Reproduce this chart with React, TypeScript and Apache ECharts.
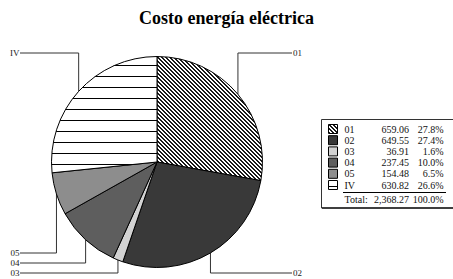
import React, { useEffect, useRef } from 'react';
import * as echarts from 'echarts';

const chartTitle = 'Costo energía eléctrica';
const categories = ['01', '02', '03', '04', '05', 'IV'];
const values = [659.06, 649.55, 36.91, 237.45, 154.48, 630.82];
const totalLabel = 'Total:';

const FONT = '"Liberation Serif", "Times New Roman", serif';
const CX = 157;
const CY = 162;
const R = 105.5;

function makeCanvas(w: number, h: number, draw: (ctx: CanvasRenderingContext2D) => void) {
  const c = document.createElement('canvas');
  c.width = w;
  c.height = h;
  const ctx = c.getContext('2d')!;
  draw(ctx);
  return c;
}

function makeFills() {
  const hatch = makeCanvas(4, 4, (ctx) => {
    ctx.fillStyle = '#ffffff';
    ctx.fillRect(0, 0, 4, 4);
    ctx.fillStyle = '#1a1a1a';
    for (let y = 0; y < 4; y++)
      for (let x = 0; x < 4; x++) {
        const m = (((x - y) % 4) + 4) % 4;
        if (m < 2) ctx.fillRect(x, y, 1, 1);
      }
  });
  const hlines = makeCanvas(4, 11, (ctx) => {
    ctx.fillStyle = '#ffffff';
    ctx.fillRect(0, 0, 4, 11);
    ctx.fillStyle = '#000000';
    ctx.fillRect(0, 10, 4, 1);
  });
  return [
    { image: hatch, repeat: 'repeat', imageWidth: 4, imageHeight: 4 },
    '#393939',
    '#d2d2d2',
    '#5e5e5e',
    '#8d8d8d',
    { image: hlines, repeat: 'repeat', imageWidth: 4, imageHeight: 11 },
  ];
}

export default function App() {
  const ref = useRef<HTMLDivElement>(null);

  useEffect(() => {
    if (!ref.current) return;
    const chart = echarts.init(ref.current, undefined, { renderer: 'svg' });
    const fills = makeFills();
    const total = values.reduce((a, b) => a + b, 0);

    const mids: number[] = [];
    let acc = 0;
    values.forEach((v) => {
      mids.push(((acc + v / 2) / total) * Math.PI * 2);
      acc += v;
    });
    const isRight = mids.map((a) => Math.sin(a) >= 0);
    const isUpper = mids.map((a) => Math.cos(a) > 0);
    const bottomLeft = mids
      .map((a, i) => i)
      .filter((i) => !isRight[i] && !isUpper[i])
      .sort((a, b) => mids[a] - mids[b]);

    const labelY = (i: number) => {
      if (isUpper[i]) return 53;
      if (isRight[i]) return 273;
      const rank = bottomLeft.indexOf(i);
      return 273 - 10 * rank;
    };

    const LF = `10px ${FONT}`;
    const rowYs = [129, 140.2, 151.4, 162.6, 173.8, 185];
    const legendEls: any[] = [];
    legendEls.push({
      type: 'rect',
      shape: { x: 321.5, y: 119.5, width: 132, height: 88.5 },
      style: { fill: '#fff', stroke: '#333', lineWidth: 1 },
    });
    legendEls.push({
      type: 'line',
      shape: { x1: 322, y1: 208, x2: 453, y2: 208 },
      style: { stroke: '#222', lineWidth: 1.5 },
    });
    categories.forEach((name, i) => {
      const y = rowYs[i];
      legendEls.push({
        type: 'rect',
        shape: { x: 328.5, y: y - 4.5, width: 9, height: 9 },
        style: { fill: fills[i], stroke: '#000', lineWidth: 1 },
      });
      legendEls.push({
        type: 'text',
        x: 344.5,
        y,
        style: { text: name, font: LF, fill: '#111', align: 'left', verticalAlign: 'middle' },
      });
      legendEls.push({
        type: 'text',
        x: 409,
        y,
        style: { text: values[i].toFixed(2), font: LF, fill: '#111', align: 'right', verticalAlign: 'middle' },
      });
      legendEls.push({
        type: 'text',
        x: 443.5,
        y,
        style: {
          text: ((values[i] / total) * 100).toFixed(1) + '%',
          font: LF,
          fill: '#111',
          align: 'right',
          verticalAlign: 'middle',
        },
      });
    });
    legendEls.push({
      type: 'line',
      shape: { x1: 343, y1: 192.5, x2: 446, y2: 192.5 },
      style: { stroke: '#000', lineWidth: 1 },
    });
    const totalY = 199.5;
    legendEls.push({
      type: 'text',
      x: 344.5,
      y: totalY,
      style: { text: totalLabel, font: LF, fill: '#111', align: 'left', verticalAlign: 'middle' },
    });
    legendEls.push({
      type: 'text',
      x: 409,
      y: totalY,
      style: {
        text: total.toLocaleString('en-US', { minimumFractionDigits: 2, maximumFractionDigits: 2 }),
        font: LF,
        fill: '#111',
        align: 'right',
        verticalAlign: 'middle',
      },
    });
    legendEls.push({
      type: 'text',
      x: 443.5,
      y: totalY,
      style: { text: '100.0%', font: LF, fill: '#111', align: 'right', verticalAlign: 'middle' },
    });

    chart.setOption({
      animation: false,
      backgroundColor: '#ffffff',
      title: {
        text: chartTitle,
        left: 'center',
        top: 4,
        textStyle: { fontFamily: FONT, fontWeight: 'bold', fontSize: 18, color: '#000' },
      },
      graphic: legendEls,
      series: [
        {
          type: 'pie',
          center: [CX, CY],
          radius: R,
          startAngle: 90,
          clockwise: true,
          silent: true,
          avoidLabelOverlap: false,
          emphasis: { disabled: true },
          itemStyle: { borderColor: '#000', borderWidth: 1 },
          label: {
            show: true,
            position: 'outside',
            formatter: '{b}',
            fontFamily: FONT,
            fontSize: 9,
            color: '#222',
          },
          labelLine: { show: true, length: 10, length2: 10, lineStyle: { color: '#333', width: 1 } },
          labelLayout: (p: any) => {
            const i = p.dataIndex;
            let p0: number[];
            if (p.labelLinePoints && p.labelLinePoints[0]) {
              p0 = p.labelLinePoints[0];
            } else {
              p0 = [CX + R * Math.sin(mids[i]), CY - R * Math.cos(mids[i])];
            }
            const y = labelY(i);
            const right = isRight[i];
            const endX = right ? 292 : 20;
            return {
              x: right ? 293 : 19.5,
              y,
              align: right ? 'left' : 'right',
              verticalAlign: 'middle',
              labelLinePoints: [
                [p0[0], p0[1]],
                [p0[0], y],
                [endX, y],
              ],
            };
          },
          data: categories.map((n, i) => ({ name: n, value: values[i], itemStyle: { color: fills[i] } })),
        },
      ],
    } as any);
    return () => chart.dispose();
  }, []);

  return (
    <div
      ref={ref}
      style={{ position: 'fixed', left: 0, top: 0, width: 453, height: 279, background: '#fff' }}
    />
  );
}
